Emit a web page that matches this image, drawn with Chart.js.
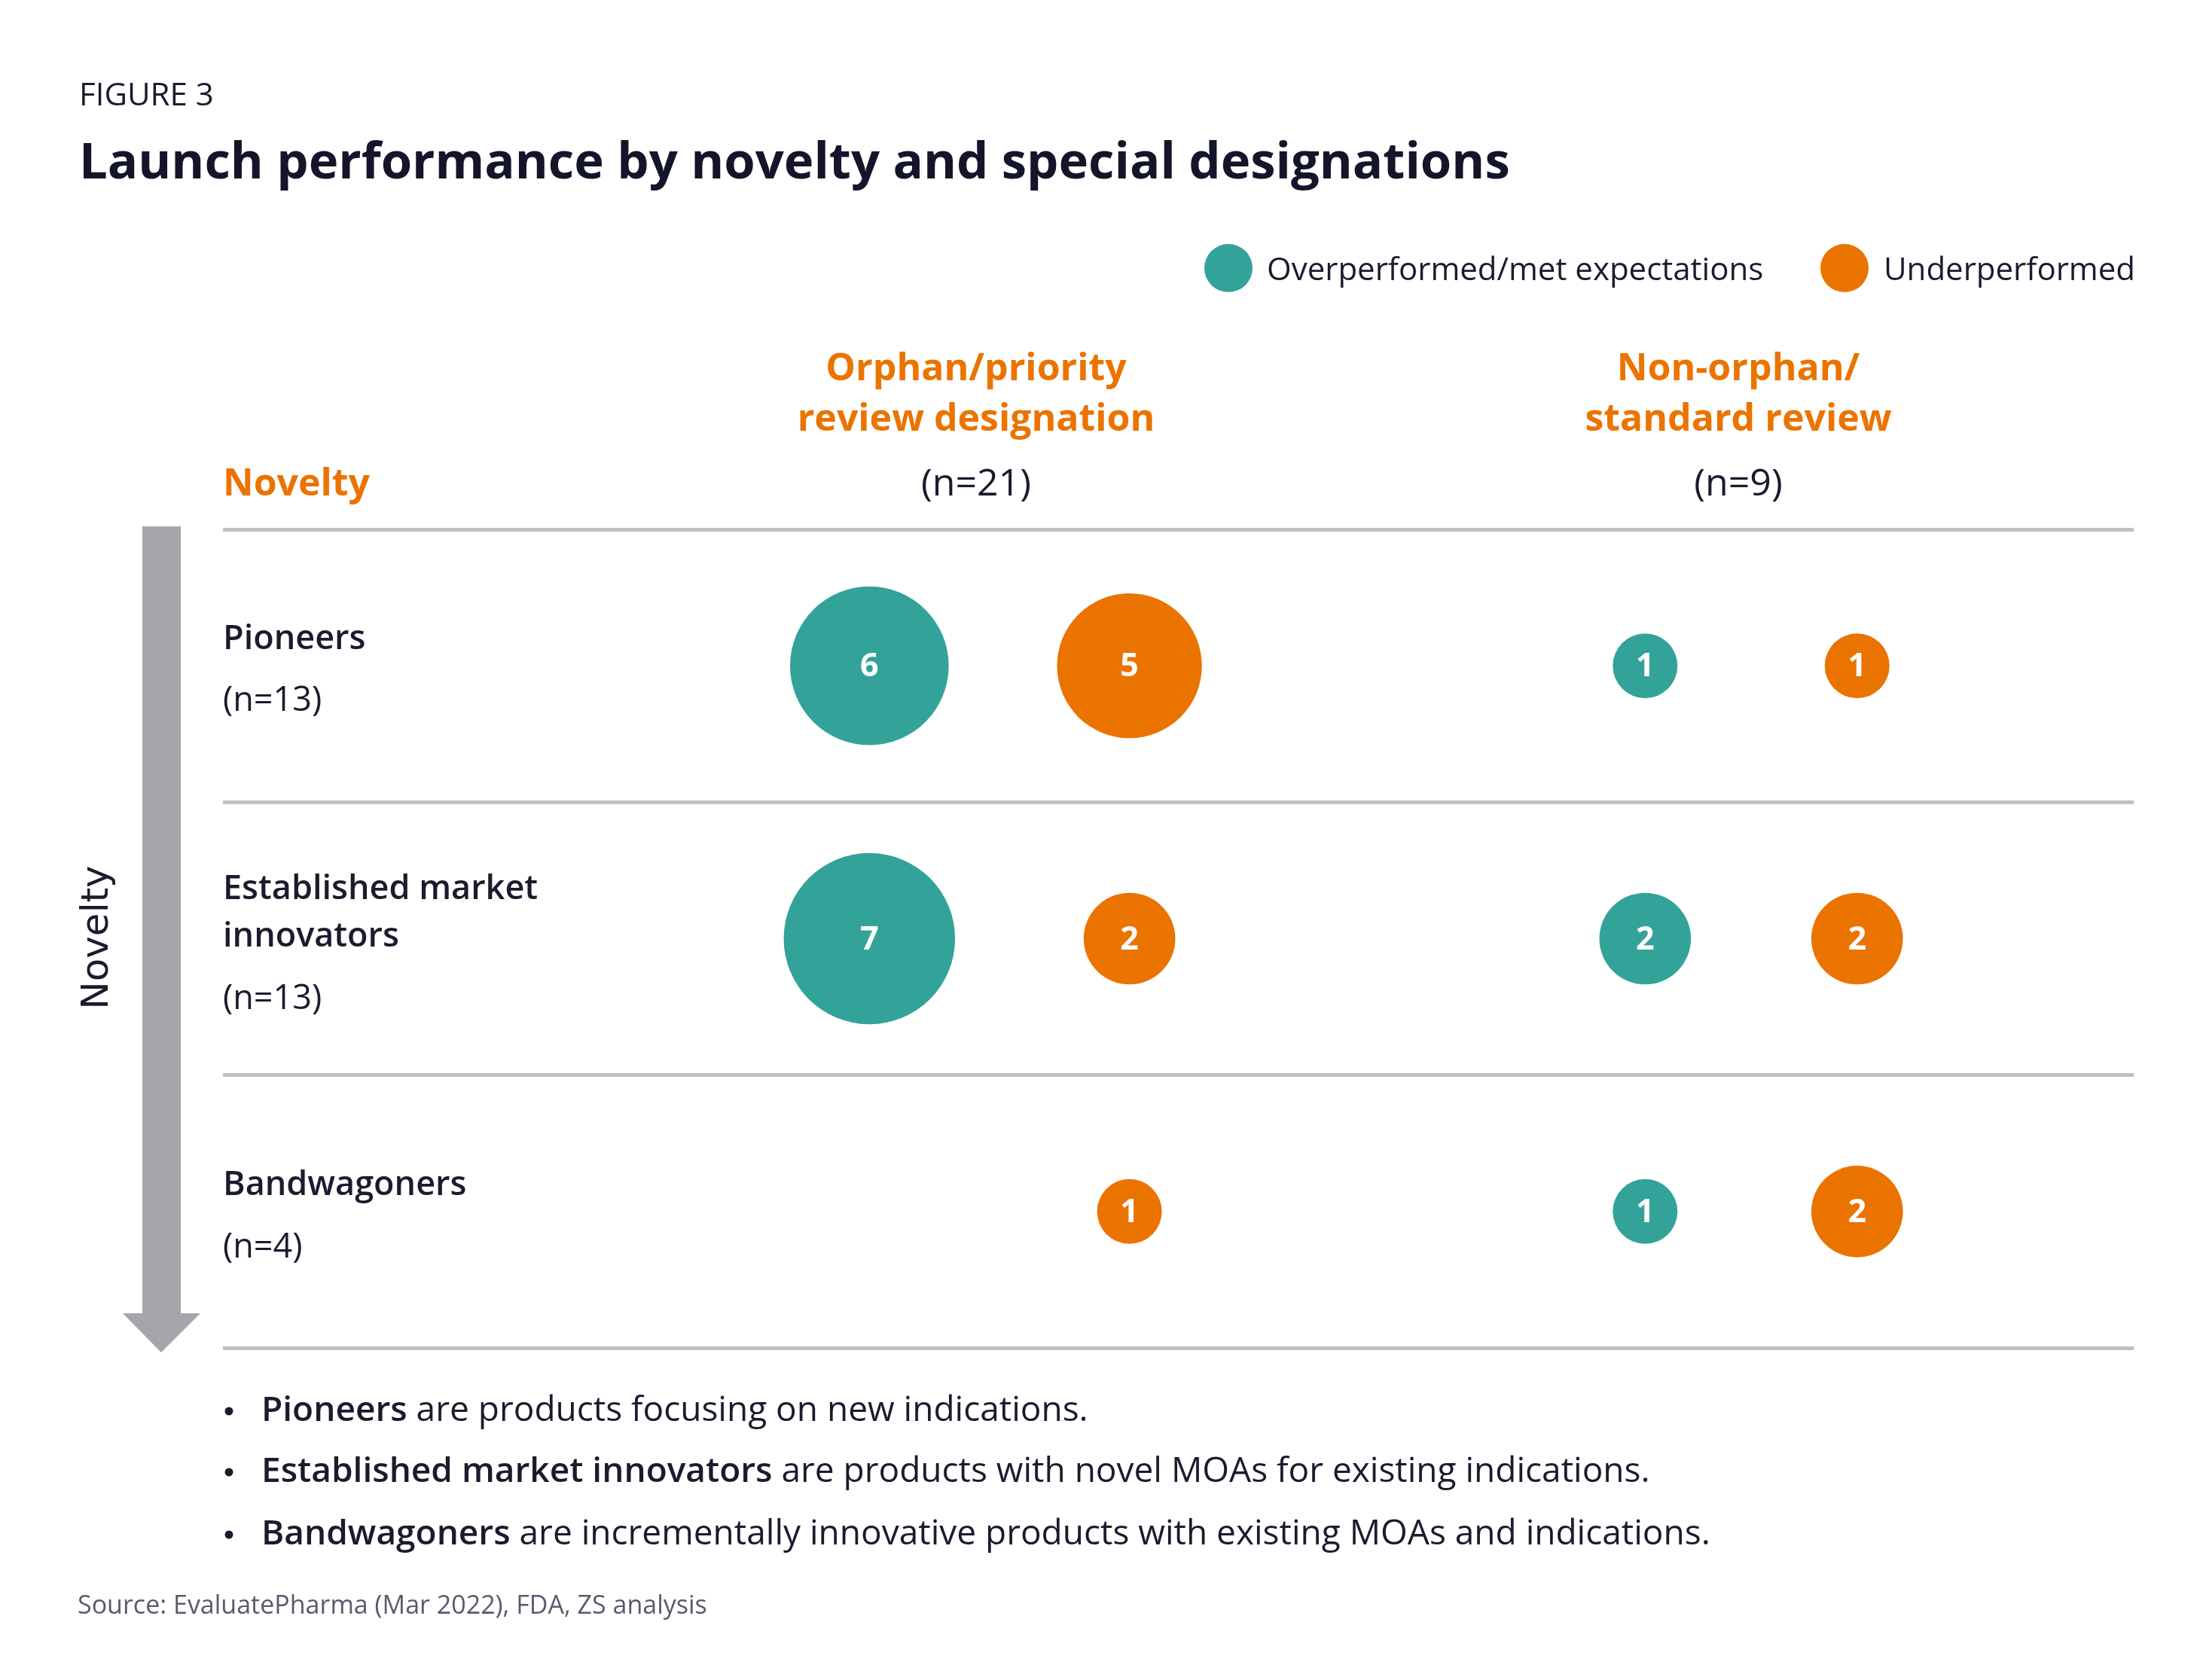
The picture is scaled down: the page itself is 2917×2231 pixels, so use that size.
<!DOCTYPE html>
<html>
<head>
<meta charset="utf-8">
<script src="https://cdn.jsdelivr.net/npm/chart.js@4"></script>
<style>
  html, body { margin: 0; padding: 0; background: #ffffff; }
  #wrap { position: relative; width: 2917px; height: 2231px; overflow: hidden; font-family: "Open Sans", sans-serif; color: #1b1b2e; }
  #chart { position: absolute; left: 0; top: 0; }
  .t { position: absolute; white-space: nowrap; line-height: 1; transform: translateY(-50%); }
  .c { transform: translate(-50%, -50%); text-align: center; }
  .orange { color: #EB7300; font-weight: 700; }
  .bold { font-weight: 700; }
  .dot { position: absolute; border-radius: 50%; transform: translate(-50%, -50%); }
</style>
</head>
<body>
<div id="wrap">
  <canvas id="chart" width="2917" height="2231"></canvas>

  <svg style="position:absolute;left:0;top:0" width="2917" height="2231">
    <rect x="189" y="699" width="51" height="1046" fill="#a5a5aa"></rect>
    <polygon points="163,1744 266,1744 214,1796" fill="#a5a5aa"></polygon>
  </svg>

  <div class="t" style="left:105px;top:124px;font-size:42px;color:#1b1b2e;">FIGURE 3</div>
  <div class="t bold" style="left:105px;top:211px;font-size:67px;color:#14142b;">Launch performance by novelty and special designations</div>

  <div class="dot" style="left:1631px;top:356px;width:64px;height:64px;background:#33A39A;"></div>
  <div class="t" style="left:1682px;top:356px;font-size:42px;">Overperformed/met expectations</div>
  <div class="dot" style="left:2449px;top:356px;width:64px;height:64px;background:#EB7300;"></div>
  <div class="t" style="left:2501px;top:356px;font-size:42px;">Underperformed</div>

  <div class="t c orange" style="left:1296px;top:486px;font-size:50px;">Orphan/priority</div>
  <div class="t c orange" style="left:1296px;top:553px;font-size:50px;">review designation</div>
  <div class="t c" style="left:1296px;top:639px;font-size:50px;font-weight:500;">(n=21)</div>
  <div class="t c orange" style="left:2308px;top:486px;font-size:50px;">Non-orphan/</div>
  <div class="t c orange" style="left:2308px;top:553px;font-size:50px;">standard review</div>
  <div class="t c" style="left:2308px;top:639px;font-size:50px;font-weight:500;">(n=9)</div>
  <div class="t orange" style="left:296px;top:639px;font-size:50px;">Novelty</div>

  <div class="t bold" style="left:296px;top:844px;font-size:45px;font-weight:600;">Pioneers</div>
  <div class="t" style="left:296px;top:926px;font-size:45px;">(n=13)</div>
  <div class="t bold" style="left:296px;top:1176px;font-size:45px;font-weight:600;">Established market</div>
  <div class="t bold" style="left:296px;top:1239px;font-size:45px;font-weight:600;">innovators</div>
  <div class="t" style="left:296px;top:1322px;font-size:45px;">(n=13)</div>
  <div class="t bold" style="left:296px;top:1569px;font-size:45px;font-weight:600;">Bandwagoners</div>
  <div class="t" style="left:296px;top:1652px;font-size:45px;">(n=4)</div>

  <div class="t" style="left:126px;top:1245px;font-size:50px;font-family:'DejaVu Sans',sans-serif;transform:translate(-50%,-50%) rotate(-90deg);">Novelty</div>

  <div class="dot" style="left:304px;top:1874px;width:11px;height:11px;background:#1b1b2e;"></div>
  <div class="t" style="left:347px;top:1869px;font-size:46px;"><b style="font-weight:600">Pioneers</b> are products focusing on new indications.</div>
  <div class="dot" style="left:304px;top:1955px;width:11px;height:11px;background:#1b1b2e;"></div>
  <div class="t" style="left:347px;top:1950px;font-size:46px;"><b style="font-weight:600">Established market innovators</b> are products with novel MOAs for existing indications.</div>
  <div class="dot" style="left:304px;top:2038px;width:11px;height:11px;background:#1b1b2e;"></div>
  <div class="t" style="left:347px;top:2033px;font-size:46px;"><b style="font-weight:600">Bandwagoners</b> are incrementally innovative products with existing MOAs and indications.</div>

  <div class="t" style="left:103px;top:2130px;font-size:34px;color:#5a5a6e;">Source: EvaluatePharma (Mar 2022), FDA, ZS analysis</div>
</div>

<script>
// ---- data ----
const noveltyRows = ['Pioneers', 'Established market innovators', 'Bandwagoners'];
const designationGroups = ['Orphan/priority review designation', 'Non-orphan/standard review'];
const seriesNames = ['Overperformed/met expectations', 'Underperformed'];
const overOrphan  = [6, 7, 0];
const underOrphan = [5, 2, 1];
const overNon     = [1, 2, 1];
const underNon    = [1, 2, 2];

const TEAL = '#33A39A';
const ORANGE = '#EB7300';
const HALF_GAPS = [0.173, 0.141];   // spacing of the two bubbles inside each designation group

function radiusFor(v) { return 43 * Math.sqrt(v); }   // bubble area proportional to count

function buildPoints(groupValues, side) {
  const pts = [];
  groupValues.forEach((vals, g) => {
    vals.forEach((v, row) => {
      if (v > 0) pts.push({ x: g + side * HALF_GAPS[g], y: row + 0.5, r: radiusFor(v), v: v });
    });
  });
  return pts;
}

const labelPlugin = {
  id: 'bubbleLabels',
  afterDatasetsDraw(chart) {
    const ctx = chart.ctx;
    ctx.save();
    ctx.fillStyle = '#ffffff';
    ctx.font = '700 43px "Open Sans"';
    ctx.textAlign = 'center';
    ctx.textBaseline = 'middle';
    chart.data.datasets.forEach((ds, i) => {
      const meta = chart.getDatasetMeta(i);
      meta.data.forEach((el, j) => {
        ctx.fillText(String(ds.data[j].v), el.x, el.y + 2);
      });
    });
    ctx.restore();
  }
};

new Chart(document.getElementById('chart'), {
  type: 'bubble',
  data: {
    datasets: [
      { label: seriesNames[0], data: buildPoints([overOrphan, overNon], -1), backgroundColor: TEAL, borderWidth: 0 },
      { label: seriesNames[1], data: buildPoints([underOrphan, underNon], 1), backgroundColor: ORANGE, borderWidth: 0 }
    ]
  },
  options: {
    responsive: false,
    devicePixelRatio: 1,
    animation: false,
    events: [],
    layout: { autoPadding: false, padding: { left: 296, right: 84, top: 703, bottom: 441 } },
    plugins: { legend: { display: false }, tooltip: { enabled: false } },
    scales: {
      x: { type: 'linear', display: false, min: -1.033, max: 1.509 },
      y: {
        type: 'linear', min: 0, max: noveltyRows.length, reverse: true,
        ticks: { display: false, stepSize: 1 },
        grid: { color: '#c0c0c0', lineWidth: 5, drawTicks: false },
        border: { display: false }
      }
    }
  },
  plugins: [labelPlugin]
});
</script>
</body>
</html>
